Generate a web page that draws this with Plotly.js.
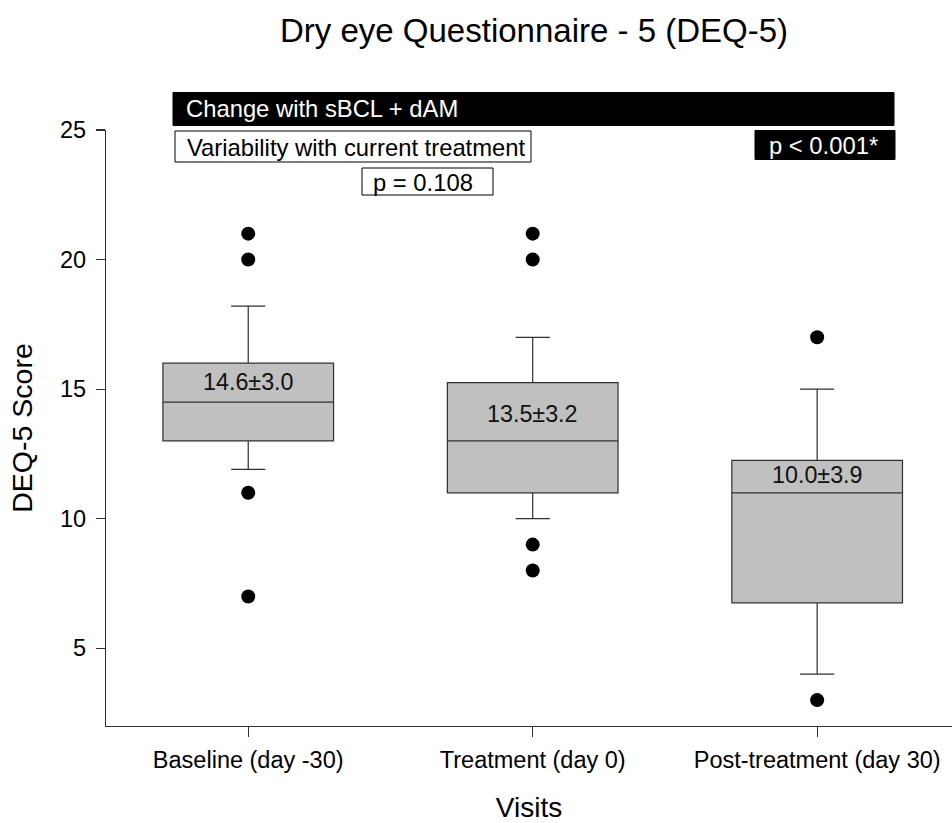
<!DOCTYPE html>
<html>
<head>
<meta charset="utf-8">
<script src="https://cdn.plot.ly/plotly-3.0.1.min.js"></script>
<style>html,body{margin:0;padding:0;background:#fff}#chart{width:952px;height:823px}</style>
</head>
<body>
<div id="chart"></div>
<script>
// ---- data ----
const categories = ['Baseline (day -30)', 'Treatment (day 0)', 'Post-treatment (day 30)'];
const q1 = [13, 11, 6.75];
const median = [14.5, 13, 11];
const q3 = [16, 15.25, 12.25];
const lowerWhisker = [11.9, 10, 4];
const upperWhisker = [18.2, 17, 15];
const meanScore = [14.6, 13.5, 10.0];
const sdScore = [3.0, 3.2, 3.9];
const baselineOutliers = [21, 20, 11, 7];
const treatmentOutliers = [21, 20, 9, 8];
const postOutliers = [17, 3];
const chartTitle = 'Dry eye Questionnaire - 5 (DEQ-5)';
const yTitle = 'DEQ-5 Score';
const xTitle = 'Visits';
const yTicks = [5, 10, 15, 20, 25];

// ---- layout geometry (pixels) ----
const W = 952, H = 823;
const M = {l: 106, r: 0, t: 130, b: 97};
const PW = W - M.l - M.r, PH = H - M.t - M.b;
const px = x => (x - M.l) / PW;
const py = y => (H - M.b - y) / PH;
const FONT = 'Liberation Sans, Arial, sans-serif';
const labelShift = [-19, -31, -15];

const outlierSets = [baselineOutliers, treatmentOutliers, postOutliers];
const outX = [], outY = [];
outlierSets.forEach((arr, i) => arr.forEach(v => { outX.push(categories[i]); outY.push(v); }));

const traces = [
  {
    type: 'box',
    x: categories,
    q1: q1, median: median, q3: q3,
    lowerfence: lowerWhisker, upperfence: upperWhisker,
    boxpoints: false,
    width: 0.6,
    whiskerwidth: 0.2,
    fillcolor: '#c0c0c0',
    line: {color: '#303030', width: 1.2},
    hoverinfo: 'skip',
    showlegend: false
  },
  {
    type: 'scatter', mode: 'markers',
    x: outX, y: outY,
    marker: {color: '#000', size: 14},
    cliponaxis: false,
    showlegend: false, hoverinfo: 'skip'
  }
];

const annotations = categories.map((c, i) => ({
  x: c, y: q3[i], xref: 'x', yref: 'y',
  text: meanScore[i].toFixed(1) + '±' + sdScore[i].toFixed(1),
  showarrow: false, yanchor: 'middle', yshift: labelShift[i],
  font: {family: FONT, size: 23.3, color: '#111'}
}));

function boxText(text, left, cy, color) {
  return {xref: 'paper', yref: 'paper', x: px(left), y: py(cy), xanchor: 'left', yanchor: 'middle',
    text: text, showarrow: false, borderpad: 0, font: {family: FONT, size: 23.8, color: color}};
}
annotations.push(boxText('Change with sBCL + dAM', 185, 109, '#fff'));
annotations.push(boxText('Variability with current treatment', 186, 147, '#000'));
annotations.push(boxText('p = 0.108', 372, 182, '#000'));
annotations.push(boxText('p &lt; 0.001*', 768, 146, '#fff'));

function rect(x0, x1, y0, y1, fill, line) {
  return {type: 'rect', xref: 'paper', yref: 'paper', x0: px(x0), x1: px(x1), y0: py(y1), y1: py(y0),
    fillcolor: fill, line: {color: line, width: 1}, layer: 'above'};
}
const shapes = [
  rect(173, 894, 92.5, 125.5, '#000', '#000'),
  rect(175, 531, 131, 162, '#fff', '#000'),
  rect(362, 493, 168, 195, '#fff', '#000'),
  rect(755, 895, 130.5, 159.5, '#000', '#000')
];

const layout = {
  width: W, height: H,
  margin: M,
  paper_bgcolor: '#fff', plot_bgcolor: '#fff',
  font: {family: FONT, color: '#000'},
  title: {text: chartTitle, x: 534 / W, xanchor: 'center', xref: 'container',
          y: 1 - 30 / H, yanchor: 'middle', yref: 'container',
          font: {family: FONT, size: 33, color: '#000'}},
  xaxis: {
    type: 'category', range: [-0.5, 2.474],
    showline: true, linecolor: '#303030', linewidth: 1.2,
    ticks: 'outside', ticklen: 10, tickcolor: '#303030', tickwidth: 1.2,
    ticklabelstandoff: 3,
    showgrid: false, zeroline: false,
    tickfont: {family: FONT, size: 23.5, color: '#000'},
    title: {text: xTitle, font: {family: FONT, size: 28, color: '#000'}, standoff: 26}
  },
  yaxis: {
    range: [2, 25], tickvals: yTicks,
    showline: true, linecolor: '#303030', linewidth: 1.2,
    ticks: 'outside', ticklen: 9, tickcolor: '#303030', tickwidth: 1.2,
    ticklabelstandoff: 5,
    showgrid: false, zeroline: false,
    tickfont: {family: FONT, size: 23.5, color: '#000'},
    title: {text: yTitle, font: {family: FONT, size: 28.5, color: '#000'}, standoff: 19}
  },
  annotations: annotations,
  shapes: shapes,
  showlegend: false
};

Plotly.newPlot('chart', traces, layout, {displayModeBar: false, staticPlot: true});
</script>
</body>
</html>
